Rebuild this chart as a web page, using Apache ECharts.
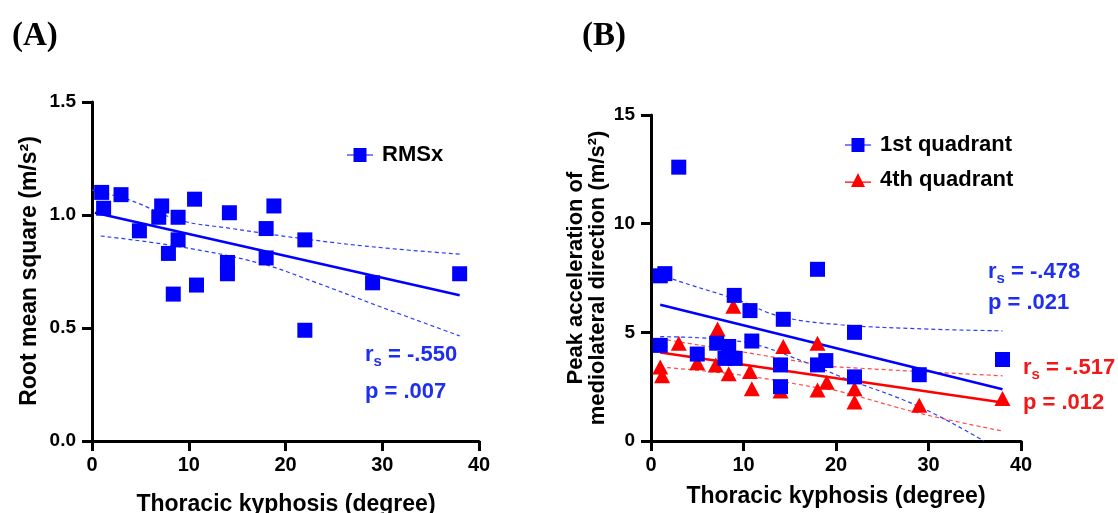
<!DOCTYPE html>
<html>
<head>
<meta charset="utf-8">
<script src="https://cdn.jsdelivr.net/npm/echarts@6/dist/echarts.min.js"></script>
<style>html,body{margin:0;padding:0;background:#fff}#c{width:1118px;height:513px}</style>
</head>
<body>
<div id="c"></div>
<script>
// ---- Panel A data ----
const rmsx = [[1,1.10],[3,1.09],[1.2,1.03],[7.2,1.04],[6.9,0.99],[8.9,0.99],[10.6,1.07],[4.9,0.93],[8.9,0.89],[7.9,0.83],[8.4,0.65],[10.8,0.69],[14.2,1.01],[14,0.79],[14,0.74],[18.8,1.04],[18,0.94],[18,0.81],[22,0.89],[22,0.49],[29,0.70],[38,0.74]];
const fitA = [[0.3,1.01],[38,0.645]];
const ciAUpper = [[0,1.11],[3.9,1.066],[9,0.978],[14.3,0.941],[22.9,0.889],[30,0.855],[38,0.827]];
const ciALower = [[0.9,0.907],[9,0.86],[17.4,0.786],[22.9,0.705],[29.8,0.594],[38,0.465]];
// ---- Panel B data ----
const q1 = [[1,7.6],[1.5,7.7],[3,12.6],[18,7.9],[9,6.7],[10.7,6.0],[14.3,5.6],[1,4.4],[5,4.0],[7.1,4.5],[8.4,4.35],[8,3.8],[9.1,3.8],[10.9,4.6],[14,3.5],[14,2.5],[18,3.5],[18.9,3.7],[22,5.0],[22,2.95],[29,3.05],[38,3.75]];
const q4 = [[1,3.4],[1.2,3.0],[3,4.5],[5,3.6],[7.2,5.15],[7,3.5],[8.4,3.1],[8.9,6.2],[10.7,3.2],[10.9,2.4],[14.3,4.35],[14,2.3],[18,4.5],[18,2.35],[19,2.7],[22,2.4],[22,1.8],[29,1.65],[38,1.95]];
const fitQ1 = [[1,6.27],[38,2.38]];
const ciQ1Upper = [[1,7.75],[2,7.5],[9.3,6.5],[14,5.73],[20.5,5.35],[30,5.15],[38,5.07]];
const ciQ1Lower = [[1,4.8],[9.6,4.58],[17,3.58],[20.5,2.96],[29,1.58],[36,0]];
const fitQ4 = [[1,4.07],[38,1.77]];
const ciQ4Upper = [[1,4.75],[1.8,4.65],[9.6,4.12],[18.3,3.5],[20.5,3.4],[38,3.0]];
const ciQ4Lower = [[1,3.4],[9.6,3.04],[18.3,2.43],[20.5,2.27],[29.1,1.27],[38,0.46]];
// ---- Text ----
const xTitle = 'Thoracic kyphosis (degree)';
const yTitleA = 'Root mean square (m/s²)';
const yTitleB = ['Peak acceleration of', 'mediolateral direction (m/s²)'];
const statsA = ['-.550', '.007'];
const statsQ1 = ['-.478', '.021'];
const statsQ4 = ['-.517', '.012'];

const BLUE = '#0000ff', RED = '#ff0000';
const FONT = '"Liberation Sans", Arial, sans-serif';

function xAxis(gi){
  return {gridIndex:gi,type:'value',min:0,max:40,interval:10,
    axisLine:{show:true,onZero:false,lineStyle:{color:'#000',width:3}},
    axisTick:{show:true,length:10,lineStyle:{color:'#000',width:3}},
    axisLabel:{color:'#000',fontFamily:FONT,fontWeight:'bold',fontSize:20,margin:14},
    splitLine:{show:false}};
}
function yAxis(gi,max,interval,fmt){
  return {gridIndex:gi,type:'value',min:0,max:max,interval:interval,
    axisLine:{show:true,onZero:false,lineStyle:{color:'#000',width:3}},
    axisTick:{show:true,length:10,lineStyle:{color:'#000',width:3}},
    axisLabel:{color:'#000',fontFamily:FONT,fontWeight:'bold',fontSize:19,margin:16,formatter:fmt},
    splitLine:{show:false}};
}
function lineS(name,data,color,xi,dashed,smooth){
  return {name:name,type:'line',xAxisIndex:xi,yAxisIndex:xi,data:data,showSymbol:false,symbol:'none',
    smooth:smooth?0.4:false,silent:true,z:1,
    lineStyle:{color:color,width:dashed?1.2:2.5,type:dashed?[4,3]:'solid'}};
}
function stat(x,y,label,val,color,dy){
  return [
    {type:'text',x:x,y:y,style:{text:'{a|r}{b|s}{a| = '+val+'}',verticalAlign:'middle',
      rich:{a:{fill:color,font:'bold 22px '+FONT},b:{fill:color,font:'bold 15px '+FONT,padding:[13,0,0,0]}}}},
    {type:'text',x:x,y:y+dy,style:{text:'p = '+label,verticalAlign:'middle',fill:color,font:'bold 22px '+FONT}}
  ];
}
function title(x,y,text,rot){
  return {type:'text',x:x,y:y,rotation:rot||0,style:{text:text,align:'center',verticalAlign:'middle',
    fill:'#000',font:'bold 23px '+FONT}};
}
const sqIcon = 'path://M0,6.4 L26,6.4 L26,7.6 L0,7.6 Z M6.5,0 L19.5,0 L19.5,14 L6.5,14 Z';
const triIcon = 'path://M0,8.6 L26,8.6 L26,9.8 L0,9.8 Z M13,0 L20,14 L6,14 Z';

const chart = echarts.init(document.getElementById('c'),null,{renderer:'canvas'});
chart.setOption({
  animation:false,
  backgroundColor:'#fff',
  grid:[
    {left:92,top:102,width:387,height:339,containLabel:false},
    {left:651,top:115,width:370,height:326,containLabel:false}
  ],
  xAxis:[xAxis(0),xAxis(1)],
  yAxis:[
    yAxis(0,1.5,0.5,v=>v.toFixed(1)),
    yAxis(1,15,5,v=>String(v))
  ],
  legend:[
    {left:342,top:139,orient:'vertical',itemWidth:26,itemHeight:14,itemGap:14,
     textStyle:{color:'#000',fontFamily:FONT,fontWeight:'bold',fontSize:22,padding:[0,0,0,4]},
     data:[{name:'RMSx',icon:sqIcon}]},
    {left:840,top:129,orient:'vertical',itemWidth:26,itemHeight:14,itemGap:13,
     textStyle:{color:'#000',fontFamily:FONT,fontWeight:'bold',fontSize:22,padding:[0,0,0,4]},
     data:[{name:'1st quadrant',icon:sqIcon},{name:'4th quadrant',icon:triIcon}]}
  ],
  series:[
    lineS('fitA',fitA,BLUE,0,false,false),
    lineS('ciAU',ciAUpper,'#2a3cff',0,true,true),
    lineS('ciAL',ciALower,'#2a3cff',0,true,true),
    {name:'RMSx',type:'scatter',xAxisIndex:0,yAxisIndex:0,data:rmsx,symbol:'rect',symbolSize:15,
     itemStyle:{color:BLUE,opacity:1},z:3},
    lineS('fitQ4',fitQ4,RED,1,false,false),
    lineS('ciQ4U',ciQ4Upper,'#ff4a4a',1,true,true),
    lineS('ciQ4L',ciQ4Lower,'#ff4a4a',1,true,true),
    {name:'4th quadrant',type:'scatter',xAxisIndex:1,yAxisIndex:1,data:q4,symbol:'triangle',symbolSize:[16,15],
     itemStyle:{color:RED,opacity:1},z:3},
    lineS('fitQ1',fitQ1,BLUE,1,false,false),
    lineS('ciQ1U',ciQ1Upper,'#2a3cff',1,true,true),
    lineS('ciQ1L',ciQ1Lower,'#2a3cff',1,true,true),
    {name:'1st quadrant',type:'scatter',xAxisIndex:1,yAxisIndex:1,data:q1,symbol:'rect',symbolSize:15,
     itemStyle:{color:BLUE,opacity:1},z:4}
  ],
  graphic:[
    {type:'text',left:12,top:20,style:{text:'(A)',font:'bold 33px "Liberation Serif", "Times New Roman", serif',fill:'#000'}},
    {type:'text',left:582,top:20,style:{text:'(B)',font:'bold 33px "Liberation Serif", "Times New Roman", serif',fill:'#000'}},
    title(286,505,xTitle),
    title(836,497,xTitle),
    title(30,271,yTitleA,Math.PI/2),
    Object.assign(title(576,278,yTitleB[0],Math.PI/2),{style:{text:yTitleB[0],align:'center',verticalAlign:'middle',fill:'#000',font:'bold 22px '+FONT}}),
    Object.assign(title(598,278,yTitleB[1],Math.PI/2),{style:{text:yTitleB[1],align:'center',verticalAlign:'middle',fill:'#000',font:'bold 22px '+FONT}}),
    ...stat(365,355,statsA[1],statsA[0],'#1f2fee',37),
    ...stat(988,272,statsQ1[1],statsQ1[0],'#1f2fee',31),
    ...stat(1023,368,statsQ4[1],statsQ4[0],'#f01818',35)
  ]
});
</script>
</body>
</html>
